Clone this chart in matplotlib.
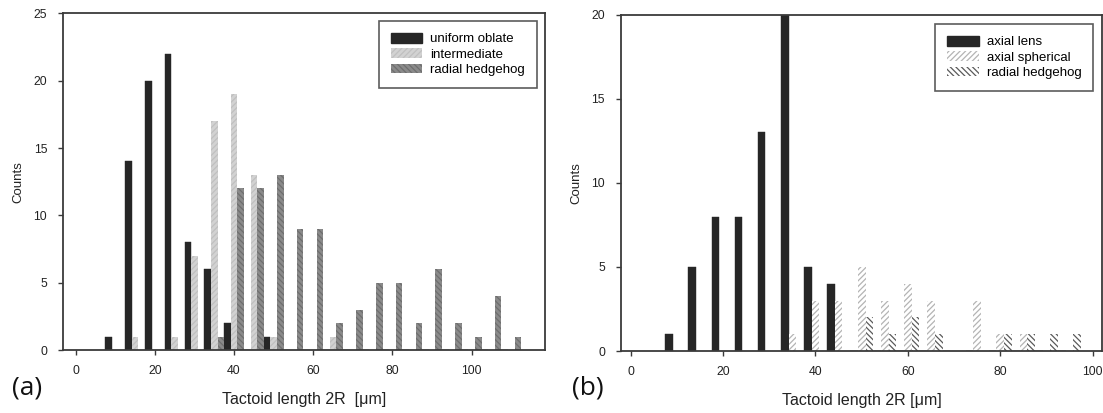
import numpy as np
import matplotlib
matplotlib.use("Agg")
import matplotlib.pyplot as plt
from matplotlib.patches import Patch

plt.rcParams['font.family'] = ['Liberation Sans', 'DejaVu Sans']
plt.rcParams['hatch.linewidth'] = 0.9

# ---- data panel (a) ----
bins_a = [10, 15, 20, 25, 30, 35, 40, 45, 50, 55, 60, 65, 70, 75, 80, 85, 90, 95, 100, 105, 110]
uniform_oblate = [1, 14, 20, 22, 8, 6, 2, 0, 1, 0, 0, 0, 0, 0, 0, 0, 0, 0, 0, 0, 0]
intermediate   = [0, 1, 0, 1, 7, 17, 19, 13, 1, 0, 0, 1, 0, 0, 0, 0, 0, 0, 0, 0, 0]
hedgehog_a     = [0, 0, 0, 0, 0, 1, 12, 12, 13, 9, 9, 2, 3, 5, 5, 2, 6, 2, 1, 4, 1]
labels_a = ["uniform oblate", "intermediate", "radial hedgehog"]
xlabel_a = "Tactoid length 2R  [\u03bcm]"

# ---- data panel (b) ----
bins_b = [10, 15, 20, 25, 30, 35, 40, 45, 50, 55, 60, 65, 70, 75, 80, 85, 90, 95]
axial_lens      = [1, 5, 8, 8, 13, 20, 5, 4, 0, 0, 0, 0, 0, 0, 0, 0, 0, 0]
axial_spherical = [0, 0, 0, 0, 0, 1, 3, 3, 5, 3, 4, 3, 0, 3, 1, 1, 0, 0]
hedgehog_b      = [0, 0, 0, 0, 0, 0, 0, 0, 2, 1, 2, 1, 0, 0, 1, 1, 1, 1]
labels_b = ["axial lens", "axial spherical", "radial hedgehog"]
xlabel_b = "Tactoid length 2R [\u03bcm]"

fig = plt.figure(figsize=(11.03, 4.13), dpi=100)
axA = fig.add_axes([0.0574, 0.1525, 0.4370, 0.8152])
axB = fig.add_axes([0.5630, 0.1501, 0.4360, 0.8142])

W = 5.0 / 3.0
spine_c = '#3a3a3a'
txt_c = '#222222'

def style(ax, xlim, ylim, yticks, xlabel):
    ax.set_xlim(*xlim)
    ax.set_ylim(*ylim)
    ax.set_xticks(np.arange(0, 101, 20))
    ax.set_yticks(yticks)
    for s in ax.spines.values():
        s.set_color(spine_c)
        s.set_linewidth(1.3)
    ax.tick_params(direction='out', length=3.6, width=1.0, color=spine_c,
                   labelsize=8.8, labelcolor=txt_c)
    ax.tick_params(axis='x', pad=7)
    ax.tick_params(axis='y', pad=8)
    ax.set_ylabel("Counts", fontsize=9.5, color=txt_c, labelpad=6.5)
    ax.set_xlabel(xlabel, fontsize=11.5, color=txt_c, labelpad=11)

leg_kw = dict(loc='upper right', fontsize=9.5, frameon=True, fancybox=False,
              edgecolor='#333333', handlelength=2.4, handleheight=0.75,
              handletextpad=0.6, labelspacing=0.22, borderpad=0.9, borderaxespad=0.2)

# panel (a)
x = np.array(bins_a, dtype=float)
axA.bar(x - W, uniform_oblate, width=W, align='center', color='#262626', edgecolor='#262626', linewidth=0.3)
axA.bar(x, intermediate, width=W, align='center', color='#d2d2d2', edgecolor='#c0c0c0', hatch='//////', linewidth=0)
axA.bar(x + W, hedgehog_a, width=W, align='center', color='#8a8a8a', edgecolor='#6e6e6e', hatch='\\\\\\\\\\\\', linewidth=0)
style(axA, (-3.1, 118.6), (0, 25), [0, 5, 10, 15, 20, 25], xlabel_a)
handlesA = [Patch(facecolor='#262626', edgecolor='#262626'),
            Patch(facecolor='#d2d2d2', edgecolor='#c0c0c0', hatch='//////', linewidth=0),
            Patch(facecolor='#8a8a8a', edgecolor='#6e6e6e', hatch='\\\\\\\\\\\\', linewidth=0)]
legA = axA.legend(handlesA, labels_a, bbox_to_anchor=(0.988, 0.985), **leg_kw)
legA.get_frame().set_linewidth(1.2)

# panel (b)
x = np.array(bins_b, dtype=float)
axB.bar(x - W, axial_lens, width=W, align='center', color='#262626', edgecolor='#262626', linewidth=0.3)
axB.bar(x, axial_spherical, width=W, align='center', color='white', edgecolor='#b4b4b4', hatch='//////', linewidth=0)
axB.bar(x + W, hedgehog_b, width=W, align='center', color='white', edgecolor='#5a5a5a', hatch='\\\\\\\\\\\\', linewidth=0)
style(axB, (-2.1, 102.0), (0, 20), [0, 5, 10, 15, 20], xlabel_b)
handlesB = [Patch(facecolor='#262626', edgecolor='#262626'),
            Patch(facecolor='white', edgecolor='#b4b4b4', hatch='//////', linewidth=0),
            Patch(facecolor='white', edgecolor='#5a5a5a', hatch='\\\\\\\\\\\\', linewidth=0)]
legB = axB.legend(handlesB, labels_b, bbox_to_anchor=(0.988, 0.98), **leg_kw)
legB.get_frame().set_linewidth(1.2)

fig.text(0.0245, 0.060, "(a)", fontsize=19, family=['Open Sans', 'DejaVu Sans'], color='#111111', va='center', ha='center')
fig.text(0.533, 0.060, "(b)", fontsize=19, family=['Open Sans', 'DejaVu Sans'], color='#111111', va='center', ha='center')

fig.savefig("out.png", dpi=100)
